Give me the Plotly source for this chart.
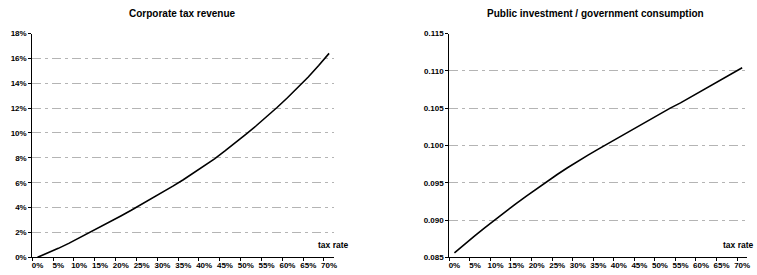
import plotly.graph_objects as go

# tax rate categories (%)
tax_rate = [0, 2.5, 5, 7.5, 10, 12.5, 15, 17.5, 20, 22.5, 25, 27.5, 30, 32.5, 35,
            37.5, 40, 42.5, 45, 47.5, 50, 52.5, 55, 57.5, 60, 62.5, 65, 67.5, 70]

# Corporate tax revenue (%)
corp_tax_revenue = [0.0, 0.35, 0.72, 1.12, 1.55, 2.0, 2.43, 2.87, 3.32, 3.78, 4.25, 4.73,
                    5.22, 5.72, 6.24, 6.78, 7.34, 7.92, 8.55, 9.2, 9.88, 10.58, 11.3,
                    12.05, 12.83, 13.65, 14.5, 15.42, 16.4]

# Public investment / government consumption
pub_inv_ratio = [0.0856, 0.0868, 0.0879, 0.0890, 0.0901, 0.0912, 0.0922, 0.0932, 0.0942,
                 0.0952, 0.0961, 0.0970, 0.0979, 0.0987, 0.0995, 0.1003, 0.1011, 0.1019,
                 0.1026, 0.1034, 0.1042, 0.1050, 0.1057, 0.1065, 0.1072, 0.1080, 0.1088,
                 0.1096, 0.1104]

x_labels = [0, 5, 10, 15, 20, 25, 30, 35, 40, 45, 50, 55, 60, 65, 70]

titles = ["Corporate tax revenue", "Public investment / government consumption"]
x_axis_label = "tax rate"

FONT = "Liberation Sans, Arial, sans-serif"
W, H = 757, 275
GRID = "#b4b4b4"
DASH = "9px,4px,3px,4px"

fig = go.Figure()
fig.add_trace(go.Scatter(x=tax_rate, y=corp_tax_revenue, mode="lines",
                         line=dict(color="black", width=1.6), xaxis="x", yaxis="y",
                         showlegend=False, hoverinfo="skip"))
fig.add_trace(go.Scatter(x=tax_rate, y=pub_inv_ratio, mode="lines",
                         line=dict(color="black", width=1.6), xaxis="x2", yaxis="y2",
                         showlegend=False, hoverinfo="skip"))

step = tax_rate[1] - tax_rate[0]
half = step / 2
xrange = [tax_rate[0] - half, tax_rate[-1] + half]
boundary_ticks = [v - half for v in x_labels]

tickfont = dict(family=FONT, size=8, color="black", weight="bold")

def xaxis(domain, anchor):
    return dict(domain=domain, anchor=anchor, range=xrange, automargin=False,
                tickvals=x_labels, ticktext=[f"{v}%" for v in x_labels],
                ticks="", showgrid=False, zeroline=False,
                showline=True, linecolor="black", linewidth=1,
                tickfont=tickfont, fixedrange=True,
                minor=dict(tickvals=boundary_ticks, ticks="outside", ticklen=3,
                           tickcolor="black", tickwidth=1, showgrid=False))

def yaxis(domain, anchor, rng, dtick, fmt, suffix):
    return dict(domain=domain, anchor=anchor, range=rng, dtick=dtick, automargin=False,
                tick0=rng[0], tickformat=fmt, ticksuffix=suffix,
                ticks="outside", ticklen=3, tickcolor="black", tickwidth=1,
                showline=True, linecolor="black", linewidth=1,
                showgrid=True, gridcolor=GRID, gridwidth=1, griddash=DASH,
                zeroline=False, tickfont=tickfont, fixedrange=True)

ydom = [17.7 / H, 241.5 / H]
fig.update_layout(
    width=W, height=H,
    margin=dict(l=0, r=0, t=0, b=0, pad=0),
    paper_bgcolor="white", plot_bgcolor="white",
    xaxis=xaxis([32.3 / W, 334.3 / W], "y"),
    yaxis=yaxis(ydom, "x", [0, 18], 2, "d", "%"),
    xaxis2=xaxis([449.3 / W, 747.3 / W], "y2"),
    yaxis2=yaxis(ydom, "x2", [0.085, 0.115], 0.005, ".3f", ""),
    annotations=[
        dict(text=titles[0], x=182.7 / W, y=(H - 14) / H, xref="paper", yref="paper",
             xanchor="center", yanchor="middle", showarrow=False,
             font=dict(family=FONT, size=10, color="black", weight="bold")),
        dict(text=titles[1], x=595 / W, y=(H - 13.3) / H, xref="paper", yref="paper",
             xanchor="center", yanchor="middle", showarrow=False,
             font=dict(family=FONT, size=10, color="black", weight="bold")),
        dict(text=x_axis_label, x=316 / W, y=(H - 245) / H, xref="paper", yref="paper",
             xanchor="left", yanchor="middle", showarrow=False,
             font=dict(family=FONT, size=8.5, color="black", weight="bold")),
        dict(text=x_axis_label, x=756 / W, y=(H - 245) / H, xref="paper", yref="paper",
             xanchor="right", yanchor="middle", showarrow=False,
             font=dict(family=FONT, size=8.5, color="black", weight="bold")),
    ],
)

fig.write_html(
    "out.html",
    config={"displayModeBar": False},
    post_script="document.body.style.margin='0';document.body.style.overflow='hidden';",
)
